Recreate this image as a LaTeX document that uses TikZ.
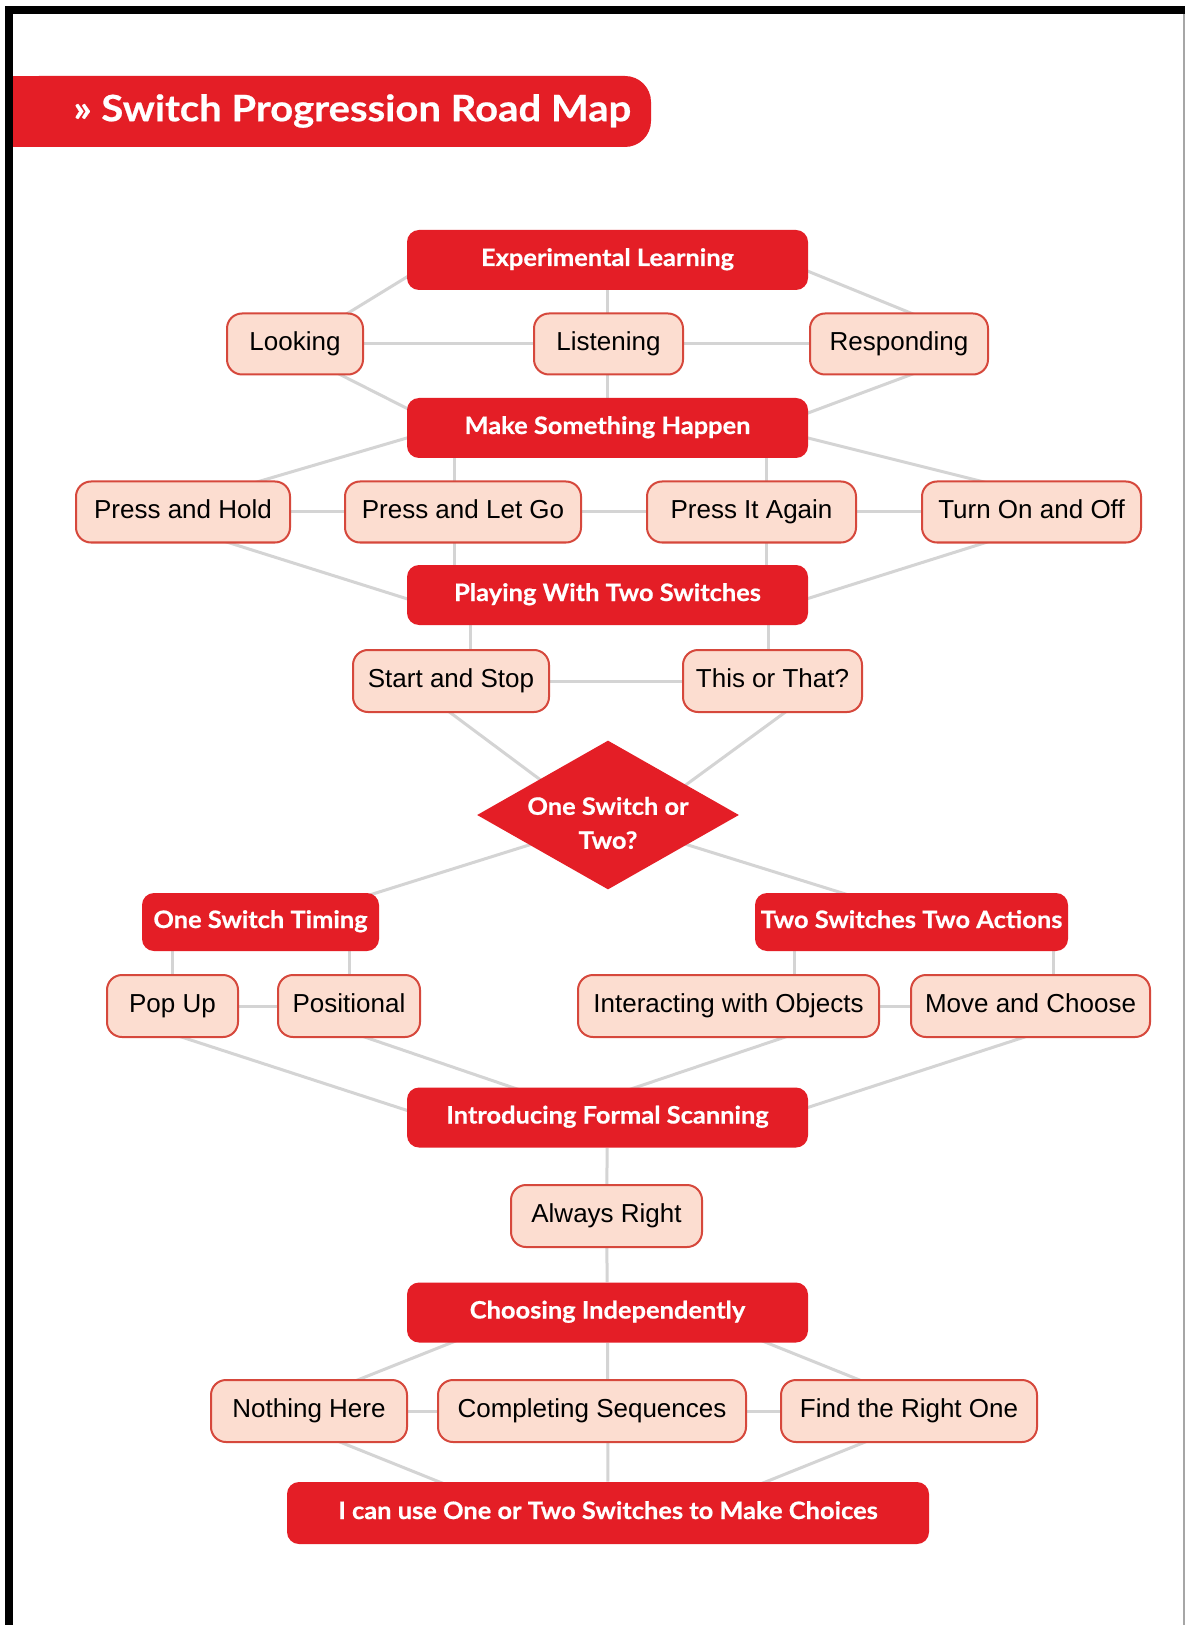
\documentclass[tikz,border=0pt]{standalone}
\usepackage{fontspec}
\setmainfont{Liberation Sans}
\newfontfamily\headf{Lato}[FakeStretch=1.06, FakeBold=0.6]
\newfontfamily\titlef{Lato}[FakeStretch=1.1, FakeBold=0.6]
\usetikzlibrary{calc,shapes.geometric}
\definecolor{myred}{RGB}{228,30,38}
\definecolor{mypink}{RGB}{252,221,208}
\definecolor{myborder}{RGB}{214,72,60}
\definecolor{mygray}{RGB}{212,212,212}
\pgfdeclarelayer{bg}
\pgfdeclarelayer{lines}
\pgfsetlayers{bg,lines,main}
\begin{document}
\begin{tikzpicture}[x=0.5pt,y=-0.5pt,
  redbox/.style={fill=myred, text=white, rounded corners=6pt, inner sep=0pt,
    minimum height=30pt, text height=8.6pt, text depth=2.6pt,
    font=\headf\bfseries\fontsize{12}{14}\selectfont},
  pinkbox/.style={fill=mypink, draw=myborder, line width=1pt, rounded corners=7.5pt,
    inner sep=0pt, minimum height=30.5pt, text height=9.6pt, text depth=2.8pt,
    font=\fontsize{13}{15}\selectfont},
  conn/.style={draw=mygray, line width=1.5pt}]
\useasboundingbox (0,0) rectangle (1185,1625);
\begin{pgfonlayer}{bg}
  \fill[white] (0,0) rectangle (1185,1625);
\end{pgfonlayer}
% title banner
\fill[myred, rounded corners=13pt] (13,76) rectangle (651,147);
\fill[myred] (13,76) rectangle (60,147);
% frame
\fill[black] (5,6) rectangle (13,1625);
\fill[black] (5,6) rectangle (1185,14);
\draw[gray!70, line width=0.6pt] (1184,14) -- (1184,1625);
\node[anchor=west, text=white, inner sep=0pt, font=\titlef\bfseries\fontsize{18.2}{22}\selectfont] (title) at (73,111) {» Switch Progression Road Map};

% nodes
\node[redbox, minimum width=200.5pt] (EL) at (607.5,260) {Experimental Learning};
\node[pinkbox, minimum width=68pt] (look) at (295,344) {Looking};
\node[pinkbox, minimum width=74.5pt] (listen) at (608.5,344) {Listening};
\node[pinkbox, minimum width=89pt] (resp) at (899,344) {Responding};
\node[redbox, minimum width=200.5pt] (MSH) at (607.5,428) {Make Something Happen};
\node[pinkbox, minimum width=107pt] (ph) at (183,512) {Press and Hold};
\node[pinkbox, minimum width=118pt] (plg) at (463,512) {Press and Let Go};
\node[pinkbox, minimum width=104.5pt] (pia) at (751.5,512) {Press It Again};
\node[pinkbox, minimum width=109.5pt] (too) at (1031.5,512) {Turn On and Off};
\node[redbox, minimum width=200.5pt] (PWTS) at (607.5,595) {Playing With Two Switches};
\node[pinkbox, minimum width=98pt, minimum height=31pt] (ss) at (451,681) {Start and Stop};
\node[pinkbox, minimum width=89.5pt, minimum height=31pt] (tt) at (772.5,681) {This or That?};
\node[diamond, fill=myred, text=white, inner sep=0pt, minimum width=131pt,
  minimum height=74.5pt, font=\headf\bfseries\fontsize{12}{17}\selectfont] (dia) at (608,815)
  {\makebox[0pt]{\raisebox{-8pt}[0pt][0pt]{\begin{tabular}{@{}c@{}}One Switch or\\Two?\end{tabular}}}};
\node[redbox, minimum width=118.5pt, minimum height=29pt] (OST) at (260.5,922) {One Switch Timing};
\node[redbox, minimum width=156.5pt, minimum height=29pt] (TSTA) at (911.5,922) {Two Switches Two Actions};
\node[pinkbox, minimum width=65.5pt, minimum height=31pt] (pop) at (172.5,1006) {Pop Up};
\node[pinkbox, minimum width=71pt, minimum height=31pt] (pos) at (349,1006) {Positional};
\node[pinkbox, minimum width=150.5pt, minimum height=31pt] (inter) at (728.5,1006) {Interacting with Objects};
\node[pinkbox, minimum width=119.5pt, minimum height=31pt] (move) at (1030.5,1006) {Move and Choose};
\node[redbox, minimum width=200.5pt] (IFS) at (607.5,1117.5) {Introducing Formal Scanning};
\node[pinkbox, minimum width=95.5pt, minimum height=31pt] (AR) at (606.5,1216) {Always Right};
\node[redbox, minimum width=200.5pt] (CI) at (607.5,1312.5) {Choosing Independently};
\node[pinkbox, minimum width=98pt, minimum height=31pt] (NH) at (309,1411) {Nothing Here};
\node[pinkbox, minimum width=154pt, minimum height=31pt] (CS) at (592,1411) {Completing Sequences};
\node[pinkbox, minimum width=128pt, minimum height=31pt] (FR) at (909,1411) {Find the Right One};
\node[redbox, minimum width=321pt, minimum height=31pt] (final) at (608,1513) {I can use One or Two Switches to Make Choices};

% helper coordinates for vertical connectors
\coordinate (v1) at ($(plg)+(-9,0)$);
\coordinate (v2) at ($(pia)+(14.5,0)$);
\coordinate (v3) at ($(ss)+(19,0)$);
\coordinate (v4) at ($(tt)+(-4.5,0)$);
\coordinate (v5) at ($(inter)+(65.5,0)$);
\coordinate (v6) at ($(move)+(22.5,0)$);

\begin{pgfonlayer}{lines}
  % level 1
  \draw[conn] ($(EL)+(-192.5,12)$) -- ($(look)+(45,-26)$);
  \draw[conn] ($(EL)+(192.5,8)$) -- ($(resp)+(19,-28)$);
  \draw[conn] (EL) -- (MSH);
  \draw[conn] (look) -- (listen) -- (resp);
  \draw[conn] ($(look)+(40,28)$) -- ($(MSH)+(-189.5,-14)$);
  \draw[conn] ($(resp)+(19,28)$) -- ($(MSH)+(192.5,-12)$);
  % level 2
  \draw[conn] ($(MSH)+(-190.5,7)$) -- ($(ph)+(57,-25)$);
  \draw[conn] ($(MSH)+(192.5,8)$) -- ($(too)+(-31.5,-26)$);
  \draw[conn] (v1 |- MSH) -- (v1 |- PWTS);
  \draw[conn] (v2 |- MSH) -- (v2 |- PWTS);
  \draw[conn] (ph) -- (plg) -- (pia) -- (too);
  \draw[conn] ($(ph)+(31,26)$) -- ($(PWTS)+(-193.5,6)$);
  \draw[conn] ($(too)+(-31.5,26)$) -- ($(PWTS)+(192.5,6)$);
  % level 3
  \draw[conn] (v3 |- PWTS) -- (v3);
  \draw[conn] (v4 |- PWTS) -- (v4);
  \draw[conn] (ss) -- (tt);
  \draw[conn] ($(ss)+(-11,24)$) -- ($(dia)+(-58,-28)$);
  \draw[conn] ($(tt)+(22.5,24)$) -- ($(dia)+(75,-28)$);
  % diamond branches
  \draw[conn] ($(dia)+(-63,25)$) -- ($(OST)+(99.5,-24)$);
  \draw[conn] ($(dia)+(64,25)$) -- ($(TSTA)+(-56.5,-25)$);
  \draw[conn] (pop |- OST) -- (pop);
  \draw[conn] (pos |- OST) -- (pos);
  \draw[conn] (v5 |- TSTA) -- (v5);
  \draw[conn] (v6 |- TSTA) -- (v6);
  \draw[conn] (pop) -- (pos);
  \draw[conn] (inter) -- (move);
  \draw[conn] ($(pop)+(-12.5,24)$) -- ($(IFS)+(-195.5,-5.5)$);
  \draw[conn] ($(pos)+(1,26)$) -- ($(IFS)+(-87.5,-27.5)$);
  \draw[conn] ($(inter)+(71.5,26)$) -- ($(IFS)+(20.5,-27.5)$);
  \draw[conn] ($(move)+(9.5,26)$) -- ($(IFS)+(192.5,-7.5)$);
  % lower part
  \draw[conn] (IFS) -- (AR) -- (CI);
  \draw[conn] (CI) -- (final);
  \draw[conn] ($(CI)+(-149.5,27.5)$) -- ($(NH)+(36,-26)$);
  \draw[conn] ($(CI)+(152.5,27.5)$) -- ($(FR)+(-37,-26)$);
  \draw[conn] (NH) -- (CS) -- (FR);
  \draw[conn] ($(NH)+(26,29)$) -- ($(final)+(-156,-26)$);
  \draw[conn] ($(FR)+(-39,29)$) -- ($(final)+(145,-26)$);
\end{pgfonlayer}
\end{tikzpicture}
\end{document}
